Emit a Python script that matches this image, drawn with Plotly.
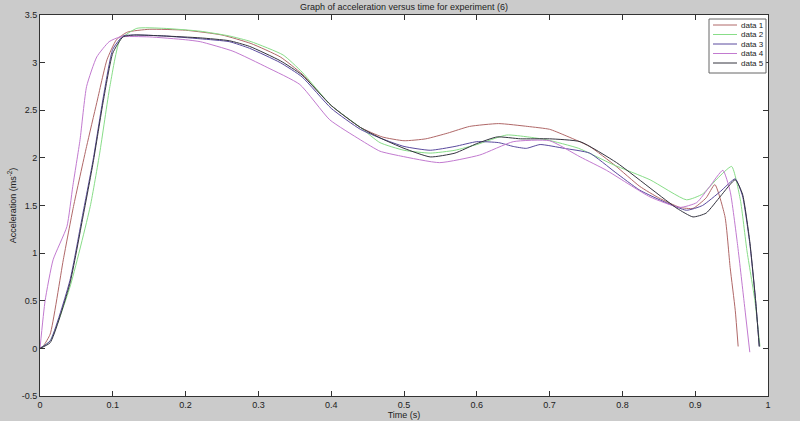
import plotly.graph_objects as go

# ---- data ----
t1 = [0, 0.005, 0.014, 0.032, 0.046, 0.064, 0.078, 0.092, 0.105, 0.12, 0.15, 0.2, 0.25, 0.29, 0.33, 0.36, 0.4, 0.44, 0.47, 0.5, 0.53, 0.56, 0.59, 0.63, 0.67, 0.70, 0.72, 0.755, 0.79, 0.824, 0.85, 0.879, 0.897, 0.915, 0.927, 0.941, 0.948, 0.955, 0.959]
a1 = [0, 0.03, 0.15, 0.93, 1.49, 2.12, 2.58, 3.03, 3.24, 3.32, 3.35, 3.34, 3.29, 3.2, 3.06, 2.88, 2.55, 2.32, 2.22, 2.18, 2.2, 2.26, 2.33, 2.36, 2.33, 2.3, 2.24, 2.12, 1.92, 1.7, 1.58, 1.48, 1.47, 1.58, 1.72, 1.38, 0.85, 0.4, 0.02]

t2 = [0, 0.014, 0.041, 0.069, 0.082, 0.096, 0.11, 0.133, 0.17, 0.22, 0.26, 0.29, 0.334, 0.36, 0.4, 0.44, 0.467, 0.5, 0.536, 0.57, 0.6, 0.641, 0.67, 0.696, 0.74, 0.787, 0.838, 0.888, 0.91, 0.93, 0.95, 0.962, 0.971, 0.982, 0.989]
a2 = [0, 0.08, 0.64, 1.49, 2.05, 2.75, 3.24, 3.36, 3.36, 3.33, 3.28, 3.22, 3.08, 2.9, 2.55, 2.32, 2.16, 2.08, 2.05, 2.08, 2.14, 2.24, 2.22, 2.19, 2.1, 1.93, 1.77, 1.56, 1.62, 1.78, 1.91, 1.56, 1.03, 0.5, 0.02]

t3 = [0, 0.014, 0.041, 0.059, 0.073, 0.087, 0.1, 0.114, 0.13, 0.17, 0.22, 0.26, 0.288, 0.33, 0.36, 0.4, 0.44, 0.47, 0.5, 0.536, 0.57, 0.6, 0.63, 0.65, 0.668, 0.687, 0.72, 0.755, 0.79, 0.824, 0.86, 0.888, 0.91, 0.935, 0.955, 0.965, 0.975, 0.983, 0.988]
a3 = [0, 0.08, 0.71, 1.42, 1.98, 2.64, 3.14, 3.28, 3.29, 3.28, 3.25, 3.22, 3.15, 3.0, 2.85, 2.52, 2.3, 2.2, 2.12, 2.08, 2.12, 2.17, 2.16, 2.12, 2.1, 2.14, 2.1, 2.05, 1.85, 1.66, 1.53, 1.45, 1.5, 1.65, 1.78, 1.6, 1.1, 0.5, 0.02]

t4 = [0, 0.007, 0.018, 0.037, 0.045, 0.055, 0.064, 0.078, 0.095, 0.11, 0.15, 0.2, 0.22, 0.265, 0.312, 0.357, 0.398, 0.44, 0.467, 0.495, 0.549, 0.604, 0.65, 0.7, 0.742, 0.778, 0.838, 0.879, 0.902, 0.92, 0.938, 0.948, 0.958, 0.967, 0.975]
a4 = [0, 0.5, 0.93, 1.28, 1.7, 2.19, 2.75, 3.06, 3.22, 3.27, 3.27, 3.24, 3.22, 3.12, 2.95, 2.77, 2.4, 2.19, 2.07, 2.02, 1.95, 2.03, 2.17, 2.18, 2.01, 1.87, 1.59, 1.48, 1.53, 1.7, 1.87, 1.65, 1.1, 0.5, -0.04]

t5 = [0, 0.014, 0.041, 0.059, 0.073, 0.087, 0.1, 0.114, 0.13, 0.17, 0.22, 0.26, 0.288, 0.33, 0.36, 0.4, 0.44, 0.467, 0.5, 0.536, 0.57, 0.6, 0.628, 0.66, 0.7, 0.742, 0.792, 0.842, 0.875, 0.897, 0.915, 0.935, 0.955, 0.965, 0.975, 0.983, 0.988]
a5 = [0, 0.06, 0.68, 1.38, 1.95, 2.6, 3.1, 3.27, 3.29, 3.28, 3.26, 3.23, 3.17, 3.02, 2.87, 2.55, 2.32, 2.21, 2.1, 2.01, 2.05, 2.15, 2.22, 2.2, 2.2, 2.17, 1.95, 1.66, 1.47, 1.38, 1.42, 1.6, 1.77, 1.62, 1.12, 0.5, 0.02]

names = ["data 1", "data 2", "data 3", "data 4", "data 5"]
colors = ["#b06868", "#88dd88", "#5a4a9e", "#c27ad0", "#34343f"]

x_ticks = [0, 0.1, 0.2, 0.3, 0.4, 0.5, 0.6, 0.7, 0.8, 0.9, 1]
x_labels = ["0", "0.1", "0.2", "0.3", "0.4", "0.5", "0.6", "0.7", "0.8", "0.9", "1"]
y_ticks = [-0.5, 0, 0.5, 1, 1.5, 2, 2.5, 3, 3.5]
y_labels = ["-0.5", "0", "0.5", "1", "1.5", "2", "2.5", "3", "3.5"]

series = [(t1, a1), (t2, a2), (t3, a3), (t4, a4), (t5, a5)]

W, H = 800, 421
L, R, T, B = 40, 32, 15, 25
PW, PH = W - L - R, H - T - B

def px(x):
    return (x - L) / PW

def py(y):
    return (H - B - y) / PH

fig = go.Figure()
for (t, a), n, c in zip(series, names, colors):
    fig.add_trace(go.Scatter(x=t, y=a, mode="lines", name=n, showlegend=False,
                             line=dict(color=c, width=1, shape="spline", smoothing=0.5)))

axis_common = dict(showgrid=False, zeroline=False, showline=True, linecolor="#333333",
                   linewidth=1, mirror="allticks", ticks="inside", ticklen=5,
                   tickcolor="#333333", automargin=False,
                   tickfont=dict(size=9, color="#222222", family="Liberation Sans, Arial"))

# custom compact legend box (MATLAB style)
shapes = [dict(type="rect", xref="paper", yref="paper",
               x0=px(709), x1=px(766), y0=py(73), y1=py(19),
               line=dict(color="#666666", width=1), fillcolor="white", layer="above")]
annotations = []
for i, (n, c) in enumerate(zip(names, colors)):
    yy = py(25 + i * 9.5)
    shapes.append(dict(type="line", xref="paper", yref="paper",
                       x0=px(713), x1=px(737), y0=yy, y1=yy,
                       line=dict(color=c, width=1), layer="above"))
    annotations.append(dict(text=n, xref="paper", yref="paper", x=px(739), y=yy,
                            xanchor="left", yanchor="middle", showarrow=False,
                            font=dict(size=8, color="#222222")))

fig.update_layout(
    width=W, height=H,
    paper_bgcolor="#cbcbcb", plot_bgcolor="white",
    margin=dict(l=L, r=R, t=T, b=B),
    font=dict(family="Liberation Sans, Arial", size=9, color="#222222"),
    title=dict(text="Graph of acceleration versus time for experiment (6)",
               x=0.5, xref="paper", xanchor="center",
               y=1 - 7 / H, yref="container", yanchor="middle",
               font=dict(size=9, color="#222222"), automargin=False),
    xaxis=dict(range=[0, 1], tickvals=x_ticks, ticktext=x_labels,
               title=dict(text="Time (s)", standoff=1, font=dict(size=9)), **axis_common),
    yaxis=dict(range=[-0.5, 3.5], tickvals=y_ticks, ticktext=y_labels,
               title=dict(text="Acceleration (ms<sup>-2</sup>)", standoff=3, font=dict(size=9)),
               **axis_common),
    shapes=shapes,
    annotations=annotations,
    showlegend=False,
)

fig.write_html("out.html", config={"displayModeBar": False},
               post_script="document.body.style.margin='0px';document.body.style.overflow='hidden';")
